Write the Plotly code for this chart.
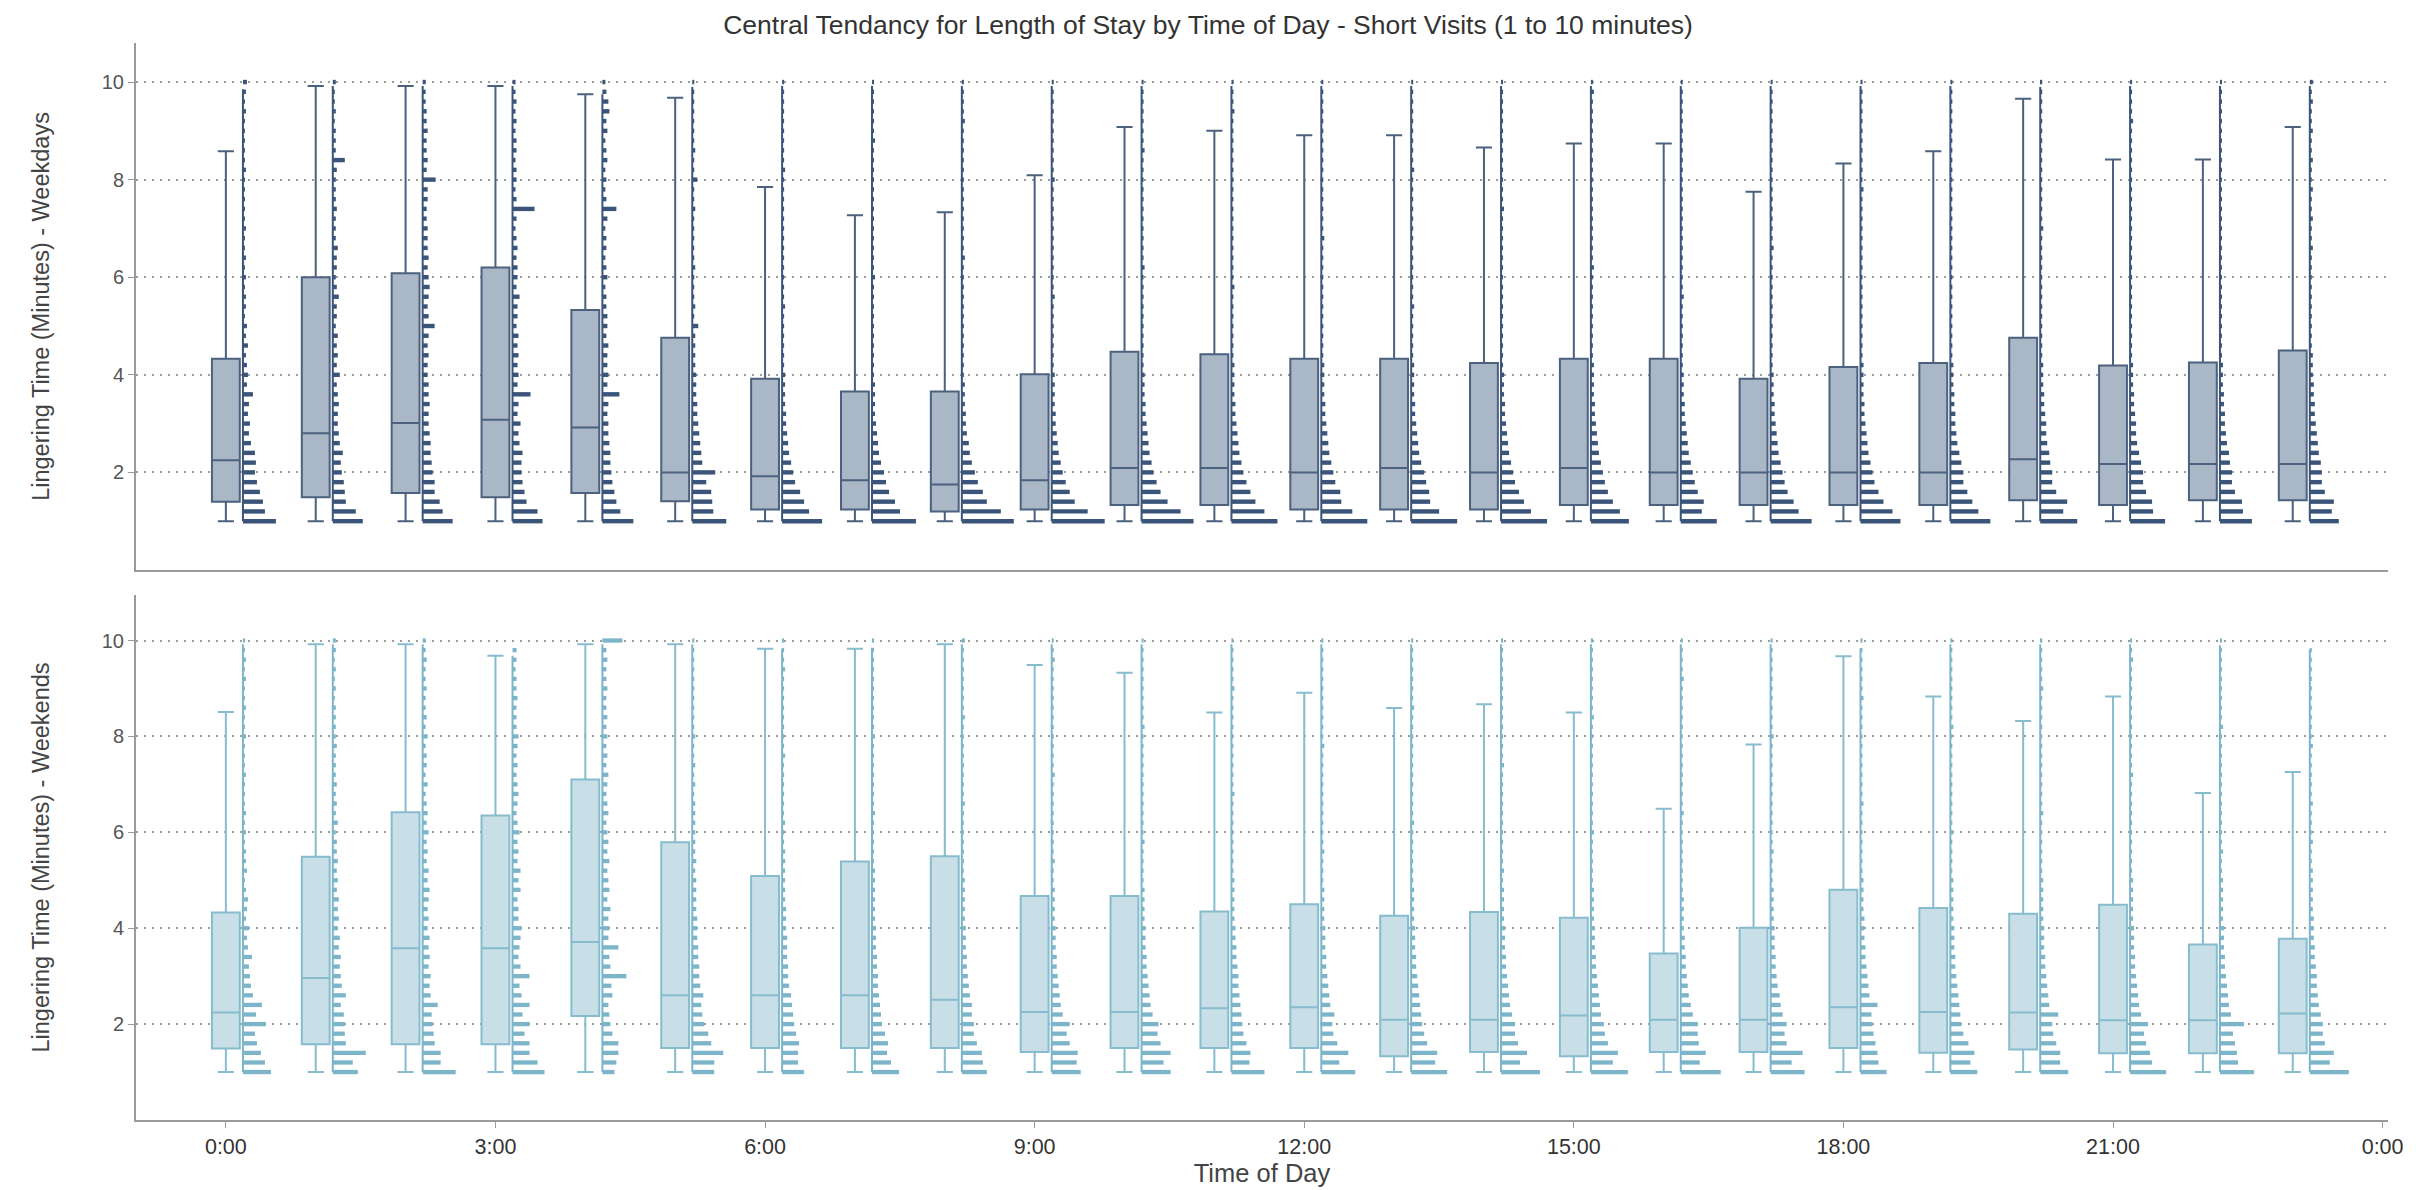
import plotly.graph_objects as go

# ---------------- data ----------------
HOURS = list(range(24))
TICK_VALS = [0, 3, 6, 9, 12, 15, 18, 21, 24]
TICK_TEXT = ["0:00", "3:00", "6:00", "9:00", "12:00", "15:00", "18:00", "21:00", "0:00"]
Y_TICKS = [2, 4, 6, 8, 10]

# histogram bin positions (minutes)
BINS = [1.0, 1.2, 1.4, 1.6, 1.8, 2.0, 2.2, 2.4, 2.6, 2.8,
        3.0, 3.2, 3.4, 3.6, 3.8, 4.0, 4.2, 4.4, 4.6, 4.8,
        5.0, 5.2, 5.4, 5.6, 5.8, 6.0, 6.2, 6.4, 6.6, 6.8,
        7.0, 7.2, 7.4, 7.6, 7.8, 8.0, 8.2, 8.4, 8.6, 8.8,
        9.0, 9.2, 9.4, 9.6, 9.8, 10.0]

# Weekdays box statistics
WD_LOW = [1.0] * 24
WD_Q1 = [1.40, 1.49, 1.58, 1.49, 1.58, 1.41, 1.24, 1.24, 1.20, 1.24, 1.33, 1.33,
         1.24, 1.24, 1.24, 1.33, 1.33, 1.33, 1.33, 1.33, 1.43, 1.33, 1.43, 1.43]
WD_MED = [2.25, 2.80, 3.01, 3.08, 2.92, 2.00, 1.92, 1.84, 1.75, 1.84, 2.09, 2.09,
          2.00, 2.09, 2.00, 2.09, 2.00, 2.00, 2.00, 2.00, 2.27, 2.17, 2.17, 2.17]
WD_Q3 = [4.33, 6.00, 6.08, 6.20, 5.33, 4.76, 3.92, 3.66, 3.66, 4.01, 4.47, 4.42,
         4.33, 4.33, 4.24, 4.33, 4.33, 3.92, 4.16, 4.24, 4.76, 4.19, 4.25, 4.50]
WD_UP = [8.58, 9.92, 9.92, 9.92, 9.75, 9.68, 7.85, 7.27, 7.33, 8.09, 9.08, 9.00,
         8.91, 8.91, 8.66, 8.74, 8.74, 7.75, 8.33, 8.58, 9.66, 8.41, 8.41, 9.08]
WD_TOP = [9.85, 9.92, 9.92, 9.92, 9.75, 9.90, 9.92, 9.92, 9.92, 9.92, 9.92, 9.92,
          9.92, 9.92, 9.92, 9.92, 9.92, 9.92, 9.92, 9.92, 9.90, 9.92, 9.92, 9.92]

# Weekends box statistics
WE_LOW = [1.0] * 24
WE_Q1 = [1.49, 1.58, 1.58, 1.58, 2.17, 1.50, 1.50, 1.50, 1.50, 1.42, 1.50, 1.50,
         1.50, 1.33, 1.42, 1.33, 1.42, 1.42, 1.50, 1.40, 1.47, 1.39, 1.39, 1.39]
WE_MED = [2.24, 2.96, 3.58, 3.58, 3.71, 2.60, 2.60, 2.60, 2.51, 2.25, 2.25, 2.33,
          2.35, 2.09, 2.09, 2.18, 2.09, 2.09, 2.35, 2.25, 2.24, 2.08, 2.08, 2.22]
WE_Q3 = [4.33, 5.49, 6.42, 6.35, 7.10, 5.79, 5.09, 5.39, 5.50, 4.67, 4.67, 4.35,
         4.50, 4.26, 4.34, 4.22, 3.47, 4.01, 4.80, 4.42, 4.30, 4.49, 3.66, 3.78]
WE_UP = [8.51, 9.92, 9.92, 9.68, 9.92, 9.92, 9.83, 9.83, 9.92, 9.49, 9.33, 8.50,
         8.91, 8.59, 8.67, 8.50, 6.49, 7.83, 9.67, 8.83, 8.32, 8.83, 6.82, 7.26]
WE_TOP = [9.92, 9.92, 9.92, 9.68, 9.92, 9.92, 9.83, 9.85, 9.92, 9.92, 9.92, 9.92,
          9.92, 9.92, 9.92, 9.92, 9.92, 9.92, 9.84, 9.92, 9.92, 9.92, 9.90, 9.82]

# Histogram frequencies per hour (relative counts, one value per bin)
WD_HIST = [
    [33,22,20,17,14,12,13,12,8,6, 7,5,6,10,4,5,4,3,5,3, 4,2,3,3,2,3,2,3,2,2, 3,2,2,2,2,2,3,2,2,2, 2,2,3,2,3,4],
    [30,23,13,12,11,9,8,10,7,6, 5,5,6,5,4,7,4,5,4,5, 3,4,4,6,4,3,4,4,5,3, 3,3,4,3,3,3,4,12,3,3, 3,2,3,2,2,3],
    [30,20,17,12,12,10,9,8,8,7, 6,6,7,6,6,5,5,6,5,6, 12,6,5,6,7,6,5,6,5,5, 5,4,4,5,5,13,4,5,4,4, 5,4,4,3,3,3],
    [30,25,14,12,10,9,9,10,7,6, 8,5,6,18,5,6,5,6,5,6, 4,5,5,7,4,5,5,4,5,4, 3,4,22,4,3,4,4,3,4,4, 3,4,3,4,3,3],
    [31,18,14,12,10,9,8,8,7,6, 6,5,6,17,5,6,5,5,6,4, 5,5,4,4,3,5,4,3,4,4, 3,5,14,4,3,4,3,5,4,3, 5,4,7,6,4,3],
    [34,21,20,19,14,23,10,9,8,7, 6,5,5,4,4,4,3,3,3,3, 6,2,3,2,2,2,3,2,2,2, 2,2,3,2,2,5,2,2,3,2, 2,2,2,2,2,2],
    [40,27,22,18,13,11,9,7,6,5, 4,4,3,3,3,3,2,2,2,2, 2,2,3,2,2,2,2,2,2,2, 2,2,2,2,2,2,3,2,2,2, 2,2,2,2,2,2],
    [44,28,23,17,14,12,9,7,6,5, 4,3,3,3,3,2,2,2,2,2, 2,2,2,2,2,3,2,2,2,2, 2,2,2,2,2,2,2,2,2,3, 2,2,2,2,2,2],
    [52,39,25,21,16,13,10,8,7,5, 4,4,3,3,3,2,2,2,2,2, 2,2,2,2,2,2,2,3,2,2, 2,2,2,2,2,2,2,2,2,2, 2,3,2,2,2,2],
    [53,36,23,18,14,11,9,7,6,5, 4,4,3,3,3,3,2,2,2,2, 2,2,2,3,2,2,2,2,2,2, 2,2,2,2,2,3,2,2,2,2, 2,2,2,2,2,2],
    [52,39,26,19,15,12,10,8,7,6, 5,4,4,3,3,3,2,2,2,2, 2,2,2,2,2,2,3,2,2,2, 2,2,2,2,2,2,2,2,3,2, 2,2,2,2,2,2],
    [46,33,24,19,15,12,10,8,7,6, 5,4,4,3,3,3,3,2,2,2, 2,2,2,2,3,2,2,2,2,2, 2,2,2,2,2,2,2,2,2,2, 2,2,3,2,2,2],
    [46,31,20,19,14,12,10,8,7,6, 5,4,4,3,3,3,3,2,2,2, 2,2,2,2,2,2,2,2,2,3, 2,2,2,2,2,2,2,2,2,2, 2,2,2,2,2,2],
    [46,28,19,18,15,13,10,8,7,6, 5,4,4,3,3,3,3,2,2,2, 2,2,3,2,2,2,2,2,2,2, 2,2,2,2,2,2,3,2,2,2, 2,2,2,2,2,2],
    [46,30,23,18,14,12,10,8,7,6, 5,4,4,3,3,3,2,2,2,2, 2,2,2,2,2,2,2,2,2,2, 2,2,3,2,2,2,2,2,2,2, 2,2,2,2,2,2],
    [38,29,22,17,14,12,10,8,7,6, 5,4,4,3,3,3,3,2,2,2, 2,2,2,2,2,2,3,2,2,2, 2,2,2,2,2,2,2,2,2,2, 2,2,2,2,3,2],
    [36,21,23,17,14,12,10,8,7,6, 5,4,4,3,3,3,2,2,2,2, 2,2,2,3,2,2,2,2,2,2, 2,2,2,2,2,2,2,2,2,2, 2,2,2,2,2,2],
    [41,28,23,17,14,12,10,8,7,6, 5,4,4,3,3,3,2,2,2,2, 2,2,2,2,2,2,2,2,3,2, 2,2,2,2,2,2,2,2,2,2, 2,2,2,2,2,2],
    [40,32,23,18,14,12,10,8,7,6, 5,4,4,3,3,3,3,2,2,2, 2,2,2,2,2,2,2,2,2,2, 2,2,2,2,3,2,2,2,2,2, 2,2,2,2,2,2],
    [40,28,22,17,13,13,11,9,7,6, 5,5,4,4,3,3,3,2,2,2, 2,2,2,2,2,2,2,2,2,2, 2,2,2,2,2,2,2,2,2,2, 2,2,2,2,2,2],
    [37,23,27,16,12,12,10,9,7,6, 6,5,4,4,3,3,3,2,2,2, 2,2,2,2,2,2,2,2,2,2, 3,2,2,2,2,2,2,2,2,2, 2,2,2,2,2,2],
    [35,23,22,16,13,13,11,9,7,6, 6,5,4,4,3,3,3,2,2,2, 2,2,2,2,2,2,2,2,2,2, 2,2,2,2,2,2,2,2,2,2, 2,3,2,2,2,2],
    [32,23,22,15,12,12,10,9,7,6, 5,5,4,4,3,3,3,2,2,2, 2,2,2,2,2,2,2,2,2,2, 2,2,2,2,2,2,2,2,2,2, 2,2,2,2,2,2],
    [29,22,24,15,12,12,11,9,8,7, 6,5,5,4,4,3,3,3,2,2, 2,2,2,2,2,2,2,2,3,2, 2,3,2,2,3,2,2,3,2,2, 3,2,2,3,2,3],
]

WE_HIST = [
    [28,22,18,14,12,23,13,19,10,8, 7,6,9,5,4,6,3,4,5,3, 2,4,3,3,2,3,2,3,2,2, 2,3,2,2,2,3,2,2,3,2, 2,3,2,3,2,2],
    [25,20,33,13,12,12,11,8,13,9, 8,7,8,6,7,5,6,5,6,4, 5,4,5,4,4,3,5,3,4,3, 4,3,3,3,4,3,3,3,3,2, 3,2,3,2,3,3],
    [33,18,18,12,11,10,9,15,8,7, 8,6,7,6,7,5,6,5,6,7, 5,6,4,5,4,6,4,5,4,3, 5,3,4,4,3,5,3,4,3,3, 4,3,3,4,3,3],
    [32,25,17,17,12,17,10,17,9,7, 17,8,6,7,8,9,6,6,5,8, 6,8,5,6,5,7,5,4,5,6, 5,4,5,4,5,6,4,4,4,5, 4,4,3,4,4,0],
    [12,14,16,16,10,8,7,6,10,9, 24,8,7,16,6,7,6,8,5,7, 6,5,7,5,6,5,4,6,5,4, 5,6,4,5,4,5,4,5,4,4, 5,4,4,5,4,20],
    [22,22,31,19,16,12,10,9,11,8, 7,7,6,6,5,5,5,4,4,4, 4,3,4,3,3,3,3,3,3,2, 3,2,3,2,2,3,2,2,2,2, 2,2,2,2,2,2],
    [22,16,16,17,14,12,11,10,9,7, 6,6,5,5,5,4,4,4,3,3, 3,3,3,3,2,2,3,2,2,2, 2,2,2,3,2,2,2,2,2,2, 2,2,3,2,2,2],
    [27,19,15,16,13,10,9,8,7,6, 6,5,5,4,4,4,3,3,3,3, 3,3,2,2,2,2,2,3,2,2, 2,2,2,2,2,3,2,2,2,2, 2,2,2,2,2,2],
    [25,21,20,15,12,12,10,10,8,7, 6,5,5,4,4,4,3,3,3,3, 3,2,2,2,2,2,2,2,3,2, 2,2,2,2,2,2,2,3,2,2, 2,2,2,2,2,3],
    [29,25,26,18,15,18,11,9,8,7, 6,5,5,4,4,4,3,3,3,3, 2,2,3,2,2,2,2,2,2,2, 2,3,2,2,2,2,2,2,2,2, 2,2,2,3,2,2],
    [29,22,29,19,16,17,11,9,8,7, 6,5,5,4,4,4,3,3,3,3, 2,2,2,2,3,2,2,2,2,2, 2,2,2,2,2,2,3,2,2,2, 2,2,2,2,2,2],
    [33,18,19,15,12,11,10,9,8,7, 7,6,5,5,4,4,3,3,3,3, 3,2,2,2,2,2,2,2,2,3, 2,2,2,2,2,2,2,2,2,2, 3,2,2,2,2,2],
    [34,18,27,16,12,11,13,9,8,7, 6,5,5,4,4,4,3,3,3,3, 2,2,2,3,2,2,2,2,2,2, 2,2,2,2,3,2,2,2,2,2, 2,2,2,2,2,2],
    [36,24,26,16,13,11,10,9,8,7, 6,5,5,4,4,4,3,3,3,3, 2,2,2,2,2,2,3,2,2,2, 2,2,2,2,2,2,2,2,3,2, 2,2,2,2,2,2],
    [39,19,26,17,14,14,11,9,8,7, 6,5,5,4,4,4,3,3,3,3, 2,3,2,2,2,2,2,2,2,2, 2,2,3,2,2,2,2,2,2,2, 2,2,2,2,2,2],
    [37,22,27,17,14,13,10,9,8,7, 6,5,5,4,4,4,3,3,3,3, 2,2,2,2,2,3,2,2,2,2, 2,2,2,2,2,2,2,3,2,2, 2,2,2,2,2,2],
    [40,19,25,18,17,17,12,10,8,7, 6,5,5,4,4,3,3,3,3,2, 2,2,2,2,2,2,2,3,2,2, 2,2,2,2,2,2,2,2,2,2, 2,3,2,2,2,2],
    [34,21,32,16,14,16,12,10,9,7, 6,5,5,4,4,4,3,3,3,3, 2,2,2,3,2,2,2,2,2,2, 2,2,2,2,2,3,2,2,2,2, 2,2,2,2,2,2],
    [26,18,17,15,13,12,11,17,9,8, 7,6,5,5,4,4,4,3,3,3, 3,2,2,2,2,2,2,2,3,2, 2,2,2,2,2,2,2,2,2,3, 2,2,2,2,2,2],
    [27,20,24,18,13,11,10,9,8,7, 6,5,5,4,4,4,3,3,3,3, 3,2,2,2,2,3,2,2,2,2, 2,2,2,2,2,2,3,2,2,2, 2,2,2,2,2,2],
    [28,20,20,16,13,12,18,9,8,7, 6,5,5,4,4,4,3,3,3,3, 3,2,2,2,2,2,2,3,2,2, 2,2,2,2,2,2,2,2,2,2, 3,2,2,2,2,2],
    [36,22,20,16,14,18,11,9,8,7, 6,5,5,4,4,4,3,3,3,3, 3,2,2,2,2,2,2,2,2,2, 2,3,2,2,2,2,2,2,2,2, 2,2,2,3,2,2],
    [34,18,17,15,13,24,11,9,8,7, 6,5,5,4,4,4,3,3,3,3, 3,2,2,3,2,2,2,2,2,2, 2,2,2,2,2,2,3,2,2,2, 2,2,2,2,2,2],
    [39,20,24,15,13,13,11,9,8,7, 7,6,5,5,4,4,4,3,3,3, 3,3,2,2,3,2,2,2,3,2, 2,2,2,2,3,2,2,2,2,2, 2,2,2,2,2,0],
]

# ---------------- styling ----------------
FONT = "Liberation Sans"
WD_FILL, WD_LINE, WD_HIST_COLOR = "#aab7c7", "#4b617e", "#3a5579"
WE_FILL, WE_LINE, WE_HIST_COLOR = "#c9dfe7", "#86bccd", "#7cb5c9"
BOX_WIDTH = 0.31          # hours
WHISKER_W = 0.58
SPINE_OFFSET = 0.19       # hours right of box centre
HIST_SCALE = 1 / 89.9     # hours of bar length per count unit
BAR_H = 0.09              # minutes

fig = go.Figure()


def add_panel(xa, ya, q1, med, q3, low, up, top, hist, fill, line, hcol):
    fig.add_trace(go.Box(
        x=HOURS, q1=q1, median=med, q3=q3, lowerfence=low, upperfence=up,
        width=BOX_WIDTH, whiskerwidth=WHISKER_W, fillcolor=fill,
        line=dict(color=line, width=2), boxpoints=False,
        xaxis=xa, yaxis=ya, showlegend=False, hoverinfo="skip"))
    ys, xs, bases = [], [], []
    for h, counts in zip(HOURS, hist):
        for b, c in zip(BINS, counts):
            if c > 0:
                ys.append(b)
                xs.append(c * HIST_SCALE)
                bases.append(h + SPINE_OFFSET)
    fig.add_trace(go.Bar(
        orientation="h", y=ys, x=xs, base=bases, width=BAR_H,
        marker=dict(color=hcol, line=dict(width=0)),
        xaxis=xa, yaxis=ya, showlegend=False, hoverinfo="skip"))
    sx, sy = [], []
    for h, t in zip(HOURS, top):
        sx += [h + SPINE_OFFSET, h + SPINE_OFFSET, None]
        sy += [1.0, t, None]
    fig.add_trace(go.Scatter(
        x=sx, y=sy, mode="lines", line=dict(color=hcol, width=2),
        xaxis=xa, yaxis=ya, showlegend=False, hoverinfo="skip"))


add_panel("x", "y", WD_Q1, WD_MED, WD_Q3, WD_LOW, WD_UP, WD_TOP, WD_HIST,
          WD_FILL, WD_LINE, WD_HIST_COLOR)
add_panel("x2", "y2", WE_Q1, WE_MED, WE_Q3, WE_LOW, WE_UP, WE_TOP, WE_HIST,
          WE_FILL, WE_LINE, WE_HIST_COLOR)

axis_common = dict(showline=True, linecolor="#9a9a9a", linewidth=2, zeroline=False,
                   automargin=False)
yaxis_common = dict(axis_common, tickvals=Y_TICKS, ticks="outside", ticklen=6,
                    tickcolor="#9a9a9a", tickwidth=1,
                    tickfont=dict(family=FONT, size=20, color="#555555"),
                    showgrid=True, gridcolor="#9c9c9c", gridwidth=1.5,
                    griddash="2px,6px")

fig.update_layout(
    width=2416, height=1190,
    template="none",
    paper_bgcolor="white", plot_bgcolor="white",
    margin=dict(l=136, r=28, t=43, b=70),
    barmode="overlay", boxmode="overlay",
    title=dict(text="Central Tendancy for Length of Stay by Time of Day - Short Visits (1 to 10 minutes)",
               x=0.5, xref="container", xanchor="center",
               y=1 - 25 / 1190, yref="container", yanchor="middle",
               font=dict(family=FONT, size=26.5, color="#333333")),
    xaxis=dict(axis_common, domain=[0, 1], anchor="y", range=[-1, 24.06],
               tickvals=TICK_VALS, showticklabels=False, ticks="", showgrid=False),
    yaxis=dict(yaxis_common, domain=[0.5107, 1], anchor="x", range=[0, 10.8],
               title=dict(text="Lingering Time (Minutes) - Weekdays", standoff=46,
                          font=dict(family=FONT, size=23.5, color="#444444"))),
    xaxis2=dict(axis_common, domain=[0, 1], anchor="y2", range=[-1, 24.06],
                tickvals=TICK_VALS, ticktext=TICK_TEXT, ticks="outside", ticklen=6,
                tickcolor="#9a9a9a", showgrid=False,
                tickfont=dict(family=FONT, size=21.5, color="#333333"),
                title=dict(text="Time of Day", standoff=6,
                           font=dict(family=FONT, size=25.5, color="#444444"))),
    yaxis2=dict(yaxis_common, domain=[0, 0.4875], anchor="x2", range=[0, 10.95],
                title=dict(text="Lingering Time (Minutes) - Weekends", standoff=46,
                           font=dict(family=FONT, size=23.5, color="#444444"))),
)

fig.write_html("out.html")
